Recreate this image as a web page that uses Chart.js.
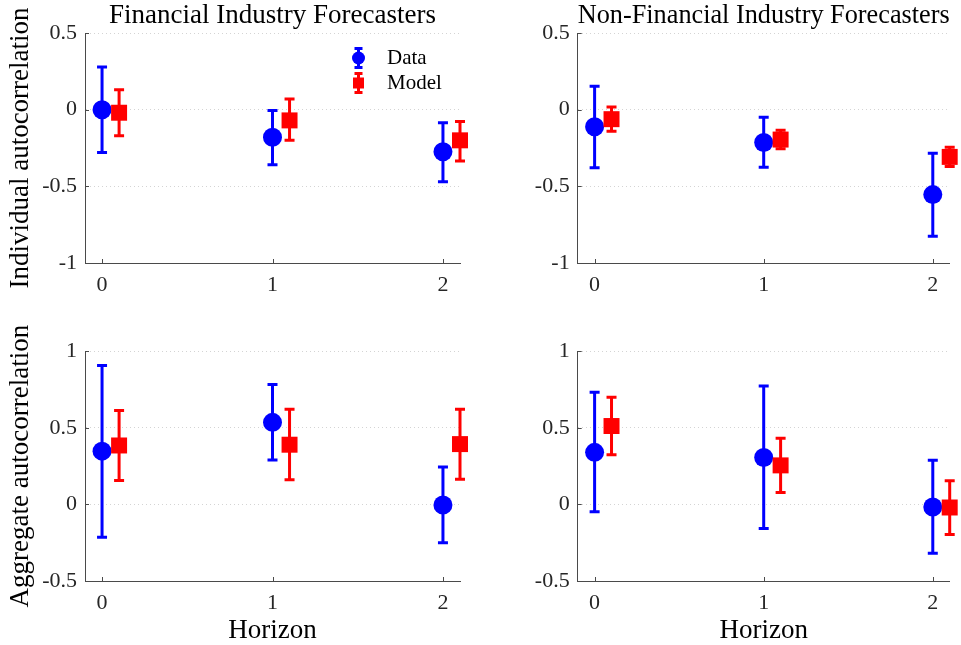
<!DOCTYPE html>
<html>
<head>
<meta charset="utf-8">
<title>Autocorrelation by horizon</title>
<script src="https://cdn.jsdelivr.net/npm/chart.js@4.4.1/dist/chart.umd.min.js"></script>
<style>
  html, body { margin: 0; padding: 0; background: #ffffff; }
  #figure { position: relative; width: 961px; height: 645px; overflow: hidden; background: #ffffff; }
  #figure canvas { position: absolute; display: block; }
</style>
</head>
<body>
<div id="figure">
  <canvas id="finInd" width="480" height="320" style="left:0px;top:0px"></canvas>
  <canvas id="nonInd" width="481" height="320" style="left:480px;top:0px"></canvas>
  <canvas id="finAgg" width="480" height="325" style="left:0px;top:320px"></canvas>
  <canvas id="nonAgg" width="481" height="325" style="left:480px;top:320px"></canvas>
</div>
<script>
// ---- categories, tick values and labels ----
const horizons = [0, 1, 2];
const modelHorizons = [0.1, 1.1, 2.1];
const horizonTicks = [0, 1, 2];
const individualTicks = [-1, -0.5, 0, 0.5];
const aggregateTicks = [-0.5, 0, 0.5, 1];
const seriesNames = ['Data', 'Model'];
const panelTitles = ['Financial Industry Forecasters', 'Non-Financial Industry Forecasters'];
const rowLabels = ['Individual autocorrelation', 'Aggregate autocorrelation'];
const xAxisLabel = 'Horizon';

// ---- Financial industry forecasters, individual autocorrelation ----
const finIndData    = [0.000, -0.180, -0.275];
const finIndDataLo  = [-0.280, -0.360, -0.470];
const finIndDataHi  = [0.278, -0.005, -0.085];
const finIndModel   = [-0.020, -0.070, -0.200];
const finIndModelLo = [-0.170, -0.200, -0.335];
const finIndModelHi = [0.130, 0.070, -0.077];

// ---- Non-financial industry forecasters, individual autocorrelation ----
const nonIndData    = [-0.112, -0.214, -0.554];
const nonIndDataLo  = [-0.378, -0.376, -0.826];
const nonIndDataHi  = [0.153, -0.049, -0.284];
const nonIndModel   = [-0.062, -0.195, -0.308];
const nonIndModelLo = [-0.140, -0.255, -0.370];
const nonIndModelHi = [0.018, -0.135, -0.245];

// ---- Financial industry forecasters, aggregate autocorrelation ----
const finAggData    = [0.348, 0.536, -0.004];
const finAggDataLo  = [-0.214, 0.290, -0.250];
const finAggDataHi  = [0.907, 0.784, 0.244];
const finAggModel   = [0.385, 0.390, 0.394];
const finAggModelLo = [0.157, 0.161, 0.165];
const finAggModelHi = [0.614, 0.621, 0.621];

// ---- Non-financial industry forecasters, aggregate autocorrelation ----
const nonAggData    = [0.340, 0.307, -0.017];
const nonAggDataLo  = [-0.048, -0.157, -0.318];
const nonAggDataHi  = [0.732, 0.773, 0.288];
const nonAggModel   = [0.512, 0.255, -0.020];
const nonAggModelLo = [0.325, 0.078, -0.196];
const nonAggModelHi = [0.700, 0.433, 0.154];

// ---- styling ----
const SERIF = "'Liberation Serif', 'Times New Roman', serif";
const AXIS_COLOR = '#4a4a4a';
const TEXT_COLOR = '#262626';
const GRID_COLOR = '#d4d4d4';
const DATA_COLOR = '#0000ff';
const MODEL_COLOR = '#ff0000';

function points(xs, ys, lo, hi) {
  return xs.map((x, i) => ({ x: x, y: ys[i], lo: lo[i], hi: hi[i] }));
}

// vertical error bars with caps, drawn just before each dataset's markers
const errorBarPlugin = {
  id: 'errorBars',
  beforeDatasetDraw(chart, args) {
    const ds = chart.data.datasets[args.index];
    const yScale = chart.scales.y;
    const ctx = chart.ctx;
    ctx.save();
    ctx.strokeStyle = ds.backgroundColor;
    ctx.lineWidth = 3;
    ctx.lineCap = 'butt';
    args.meta.data.forEach((el, i) => {
      const p = ds.data[i];
      const yLo = yScale.getPixelForValue(p.lo);
      const yHi = yScale.getPixelForValue(p.hi);
      const cap = 5;
      ctx.beginPath();
      ctx.moveTo(el.x, yLo);
      ctx.lineTo(el.x, yHi);
      ctx.moveTo(el.x - cap, yLo);
      ctx.lineTo(el.x + cap, yLo);
      ctx.moveTo(el.x - cap, yHi);
      ctx.lineTo(el.x + cap, yHi);
      ctx.stroke();
    });
    ctx.restore();
  }
};

// inward tick marks on the left and bottom axes
const innerTicksPlugin = {
  id: 'innerTicks',
  beforeDatasetsDraw(chart) {
    const { ctx, chartArea, scales } = chart;
    ctx.save();
    ctx.strokeStyle = AXIS_COLOR;
    ctx.lineWidth = 1;
    ctx.beginPath();
    scales.y.ticks.forEach(t => {
      const y = Math.round(scales.y.getPixelForValue(t.value)) + 0.5;
      ctx.moveTo(chartArea.left, y);
      ctx.lineTo(chartArea.left + 4, y);
    });
    scales.x.ticks.forEach(t => {
      const x = Math.round(scales.x.getPixelForValue(t.value)) + 0.5;
      ctx.moveTo(x, chartArea.bottom);
      ctx.lineTo(x, chartArea.bottom - 4);
    });
    ctx.stroke();
    ctx.restore();
  }
};

// legend with error-bar glyphs, placed inside the plot area
const errorLegendPlugin = {
  id: 'errorLegend',
  afterDraw(chart, args, opts) {
    if (!opts || !opts.show) return;
    const ctx = chart.ctx;
    const rows = [
      { label: chart.data.datasets[0].label, color: DATA_COLOR, shape: 'circle', y: 58 },
      { label: chart.data.datasets[1].label, color: MODEL_COLOR, shape: 'square', y: 83 }
    ];
    const ix = opts.x;
    ctx.save();
    rows.forEach(r => {
      ctx.strokeStyle = r.color;
      ctx.fillStyle = r.color;
      ctx.lineWidth = 3;
      ctx.beginPath();
      ctx.moveTo(ix, r.y - 9.5); ctx.lineTo(ix, r.y + 9.5);
      ctx.moveTo(ix - 4, r.y - 9.5); ctx.lineTo(ix + 4, r.y - 9.5);
      ctx.moveTo(ix - 4, r.y + 9.5); ctx.lineTo(ix + 4, r.y + 9.5);
      ctx.stroke();
      ctx.beginPath();
      if (r.shape === 'circle') {
        ctx.arc(ix, r.y, 6.5, 0, Math.PI * 2);
      } else {
        ctx.rect(ix - 5.5, r.y - 5.5, 11, 11);
      }
      ctx.fill();
      ctx.fillStyle = '#000000';
      ctx.font = '21px ' + SERIF;
      ctx.textBaseline = 'alphabetic';
      ctx.textAlign = 'left';
      ctx.fillText(r.label, opts.textX, r.y + 6);
    });
    ctx.restore();
  }
};

function makePanel(id, cfg) {
  const canvas = document.getElementById(id);
  const W = canvas.width, H = canvas.height;
  const area = cfg.area;
  return new Chart(canvas, {
    type: 'scatter',
    data: {
      datasets: [
        {
          label: seriesNames[0],
          data: points(horizons, cfg.data, cfg.dataLo, cfg.dataHi),
          backgroundColor: DATA_COLOR,
          borderColor: DATA_COLOR,
          pointStyle: 'circle',
          pointRadius: 9.5,
          pointHoverRadius: 9.5,
          borderWidth: 0,
          order: 1,
          clip: false
        },
        {
          label: seriesNames[1],
          data: points(modelHorizons, cfg.model, cfg.modelLo, cfg.modelHi),
          backgroundColor: MODEL_COLOR,
          borderColor: MODEL_COLOR,
          pointStyle: 'rect',
          pointRadius: 11.3,
          pointHoverRadius: 11.3,
          borderWidth: 0,
          order: 0,
          clip: false
        }
      ]
    },
    options: {
      responsive: false,
      animation: false,
      devicePixelRatio: 1,
      events: [],
      layout: {
        padding: { left: 0, right: W - area.right, top: cfg.title ? 0 : area.top, bottom: 0 }
      },
      plugins: {
        legend: { display: false },
        tooltip: { enabled: false },
        title: {
          display: !!cfg.title,
          text: cfg.title || '',
          fullSize: false,
          color: '#000000',
          font: { family: SERIF, size: 27, weight: 'normal', lineHeight: 1.0 },
          padding: { top: 2, bottom: area.top - 29 }
        },
        errorLegend: cfg.legend ? { show: true, x: 358.5, textX: 387 } : { show: false }
      },
      scales: {
        x: {
          type: 'linear',
          min: -0.1,
          max: 2.1,
          afterBuildTicks: s => { s.ticks = horizonTicks.map(v => ({ value: v })); },
          afterFit: s => { s.height = H - area.bottom; },
          grid: { display: false, drawTicks: false },
          border: { display: true, color: AXIS_COLOR, width: 1 },
          ticks: {
            color: TEXT_COLOR,
            font: { family: SERIF, size: 22 },
            padding: 9.5,
            maxRotation: 0,
            callback: v => String(v)
          },
          title: {
            display: !!cfg.xLabel,
            text: cfg.xLabel || '',
            color: '#000000',
            font: { family: SERIF, size: 27, lineHeight: 1.0 },
            padding: { top: 0, bottom: 1 }
          }
        },
        y: {
          type: 'linear',
          min: cfg.yTicks[0],
          max: cfg.yTicks[cfg.yTicks.length - 1],
          afterBuildTicks: s => { s.ticks = cfg.yTicks.map(v => ({ value: v })); },
          afterFit: s => { s.width = area.left; },
          grid: { display: true, drawTicks: false, color: GRID_COLOR, lineWidth: 1 },
          border: { display: true, color: AXIS_COLOR, width: 1, dash: [1, 3] },
          ticks: {
            color: TEXT_COLOR,
            font: { family: SERIF, size: 22 },
            padding: 8,
            callback: v => String(v)
          },
          title: {
            display: !!cfg.yLabel,
            text: cfg.yLabel || '',
            color: '#000000',
            font: { family: SERIF, size: 27, lineHeight: 1.0 },
            padding: { top: 7.5, bottom: 0 }
          }
        }
      }
    },
    plugins: [innerTicksPlugin, errorBarPlugin, errorLegendPlugin]
  });
}

makePanel('finInd', {
  area: { left: 85, right: 460, top: 33, bottom: 263 },
  title: panelTitles[0], yLabel: rowLabels[0], xLabel: null, legend: true,
  yTicks: individualTicks,
  data: finIndData, dataLo: finIndDataLo, dataHi: finIndDataHi,
  model: finIndModel, modelLo: finIndModelLo, modelHi: finIndModelHi
});

makePanel('nonInd', {
  area: { left: 97.7, right: 472.7, top: 33, bottom: 263 },
  title: panelTitles[1], yLabel: null, xLabel: null, legend: false,
  yTicks: individualTicks,
  data: nonIndData, dataLo: nonIndDataLo, dataHi: nonIndDataHi,
  model: nonIndModel, modelLo: nonIndModelLo, modelHi: nonIndModelHi
});

makePanel('finAgg', {
  area: { left: 85, right: 460, top: 31.3, bottom: 261 },
  title: null, yLabel: rowLabels[1], xLabel: xAxisLabel, legend: false,
  yTicks: aggregateTicks,
  data: finAggData, dataLo: finAggDataLo, dataHi: finAggDataHi,
  model: finAggModel, modelLo: finAggModelLo, modelHi: finAggModelHi
});

makePanel('nonAgg', {
  area: { left: 97.7, right: 472.7, top: 31.3, bottom: 261 },
  title: null, yLabel: null, xLabel: xAxisLabel, legend: false,
  yTicks: aggregateTicks,
  data: nonAggData, dataLo: nonAggDataLo, dataHi: nonAggDataHi,
  model: nonAggModel, modelLo: nonAggModelLo, modelHi: nonAggModelHi
});
</script>
</body>
</html>
